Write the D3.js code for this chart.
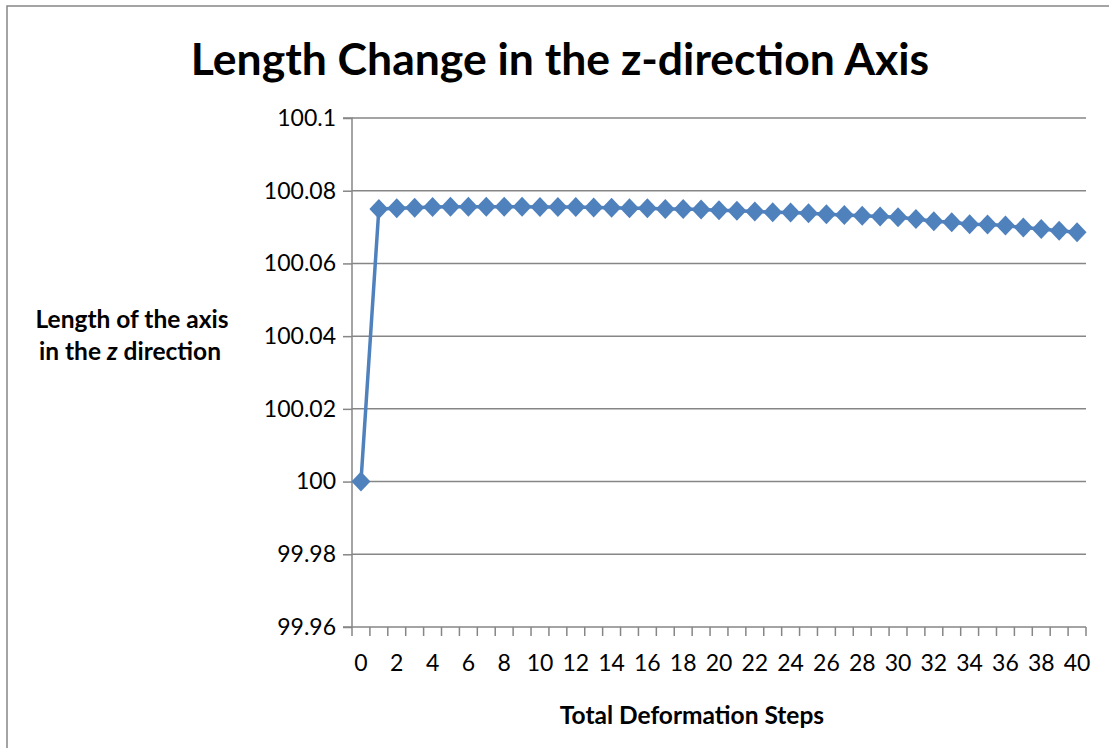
<!DOCTYPE html>
<html>
<head>
<meta charset="utf-8">
<script src="https://cdn.jsdelivr.net/npm/d3@7"></script>
<style>
  html, body { margin: 0; padding: 0; background: #fff; }
  svg { display: block; }
  text { font-family: Lato, "Open Sans", sans-serif; fill: #000; }
</style>
</head>
<body>
<svg id="chart" width="1109" height="748"></svg>
<script>
// Deformation steps 0..40 and the measured axis length at each step
const steps = d3.range(0, 41);
const lengthZ = [
  100.0000, 100.0750, 100.0752, 100.0753, 100.0755, 100.0756, 100.0756, 100.0756,
  100.0756, 100.0756, 100.0755, 100.0755, 100.0755, 100.0754, 100.0753, 100.0752,
  100.0752, 100.0750, 100.0750, 100.0748, 100.0746, 100.0745, 100.0743, 100.0741,
  100.0740, 100.0738, 100.0735, 100.0733, 100.0731, 100.0729, 100.0727, 100.0722,
  100.0716, 100.0713, 100.0708, 100.0707, 100.0704, 100.0699, 100.0695, 100.0690,
  100.0686
];
const yTicks = [99.96, 99.98, 100, 100.02, 100.04, 100.06, 100.08, 100.1];
const xTickLabels = d3.range(0, 41, 2);

const svg = d3.select("#chart");
const plot = { left: 352, right: 1086, top: 118, bottom: 627 };
const blue = "#4F81BD";
const gray = "#868686";

// outer chart frame
svg.append("rect")
  .attr("x", 7).attr("y", 6)
  .attr("width", 1200).attr("height", 900)
  .attr("fill", "none").attr("stroke", gray).attr("stroke-width", 1.5);

const x = d3.scaleLinear().domain([-0.5, 40.5]).range([plot.left, plot.right]);
const y = d3.scaleLinear().domain([99.96, 100.1]).range([plot.bottom, plot.top]);

// horizontal gridlines
svg.append("g").selectAll("line").data(yTicks.slice(1)).join("line")
  .attr("x1", plot.left).attr("x2", plot.right)
  .attr("y1", d => y(d)).attr("y2", d => y(d))
  .attr("stroke", gray).attr("stroke-width", 1.5);

// y axis
const yAxis = d3.axisLeft(y).tickValues(yTicks).tickSize(9).tickPadding(7)
  .tickFormat(d => String(+d.toFixed(2)));
const gy = svg.append("g").attr("transform", `translate(${plot.left},0)`).call(yAxis);
gy.select(".domain").attr("stroke", gray).attr("stroke-width", 1.5).attr("d", `M-9,${plot.top}H0V${plot.bottom}`);
gy.selectAll(".tick line").attr("stroke", gray).attr("stroke-width", 1.5);
gy.selectAll(".tick text").style("font-size", "23px").attr("fill", "#000");

// x axis: tick marks on category boundaries, labels on every second category
const boundaries = d3.range(0, 42).map(k => k - 0.5);
const gx = svg.append("g").attr("transform", `translate(0,${plot.bottom})`);
gx.append("line").attr("x1", plot.left - 9).attr("x2", plot.right)
  .attr("stroke", gray).attr("stroke-width", 1.5);
gx.selectAll("line.tk").data(boundaries).join("line").attr("class", "tk")
  .attr("x1", d => x(d)).attr("x2", d => x(d)).attr("y1", 0).attr("y2", 9)
  .attr("stroke", gray).attr("stroke-width", 1.5);
gx.selectAll("text").data(xTickLabels).join("text")
  .attr("x", d => x(d)).attr("y", 44)
  .attr("text-anchor", "middle").style("font-size", "23px")
  .text(d => d);

// series line
const line = d3.line().x((d, i) => x(steps[i])).y(d => y(d));
svg.append("path").datum(lengthZ)
  .attr("d", line).attr("fill", "none")
  .attr("stroke", blue).attr("stroke-width", 3.5).attr("stroke-linejoin", "round");

// diamond markers
svg.append("g").selectAll("path").data(lengthZ).join("path")
  .attr("transform", (d, i) => `translate(${x(steps[i])},${y(d)})`)
  .attr("d", "M0,-10L9.5,0L0,10L-9.5,0Z")
  .attr("fill", blue);

// title
svg.append("text").attr("x", 560).attr("y", 75)
  .attr("text-anchor", "middle").style("font-size", "44.5px").style("font-weight", "bold")
  .text("Length Change in the z-direction Axis");

// axis titles
svg.append("text").attr("x", 692).attr("y", 724)
  .attr("text-anchor", "middle").style("font-size", "24.5px").style("font-weight", "bold")
  .text("Total Deformation Steps");

const yt = svg.append("text").attr("text-anchor", "middle")
  .style("font-size", "24.5px").style("font-weight", "bold");
yt.append("tspan").attr("x", 132).attr("y", 328).text("Length of the axis");
const l2 = yt.append("tspan").attr("x", 130).attr("y", 360);
l2.append("tspan").text("in the ");
l2.append("tspan").style("font-style", "italic").text("z");
l2.append("tspan").text(" direction");
</script>
</body>
</html>
